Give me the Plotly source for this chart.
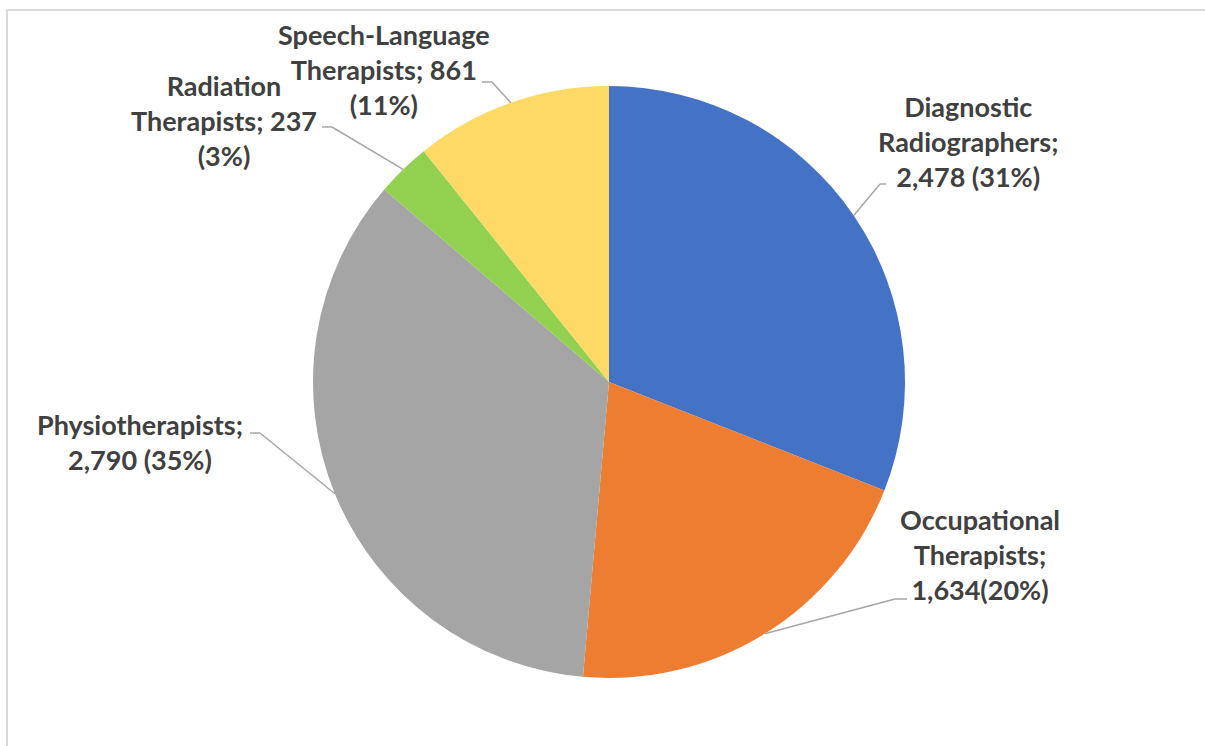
import math
import plotly.graph_objects as go

# ---- data ----
categories = ["Diagnostic Radiographers", "Occupational Therapists", "Physiotherapists",
              "Radiation Therapists", "Speech-Language Therapists"]
values = [2478, 1634, 2790, 237, 861]
label_texts = [
    "Diagnostic<br>Radiographers;<br>2,478 (31%)",
    "Occupational<br>Therapists;<br>1,634(20%)",
    "Physiotherapists;<br>2,790 (35%)",
    "Radiation<br>Therapists; 237<br>(3%)",
    "Speech-Language<br>Therapists; 861<br>(11%)",
]

# ---- style / layout ----
colors = ["#4472C4", "#ED7D31", "#A5A5A5", "#92D050", "#FFD966"]
W, H = 1205, 746
CX, CY, R = 609, 382, 296          # pie centre / radius in pixels
# label block centres (px) and leader elbow points (px): (elbow_x, elbow_y, end_x)
label_pos = [(968, 141), (980, 554), (140, 442), (224, 120), (384, 70)]
elbows = [(880, 184, 886), (895, 599, 907), (260, 433, 250), (332, 127, 322), (492, 82, 482)]
TEXT_COLOR = "#404040"
LINE_COLOR = "#A6A6A6"
FONT = "Lato"


def px(x):
    return x / W


def py(y):
    return 1 - y / H


fig = go.Figure(go.Pie(
    labels=categories, values=values, sort=False, direction="clockwise", rotation=0,
    marker=dict(colors=colors, line=dict(width=0)),
    textinfo="none", hoverinfo="label+value+percent",
    domain=dict(x=[px(CX - R), px(CX + R)], y=[py(CY + R), py(CY - R)]),
    showlegend=False,
))

shapes = []
annotations = []
total = sum(values)
cum = 0
for i, v in enumerate(values):
    mid = (cum + v / 2) / total * 2 * math.pi
    cum += v
    ax = CX + R * math.sin(mid)
    ay = CY - R * math.cos(mid)
    ex, ey, hx = elbows[i]
    shapes.append(dict(type="line", xref="paper", yref="paper",
                       x0=px(ax), y0=py(ay), x1=px(ex), y1=py(ey),
                       line=dict(color=LINE_COLOR, width=1.5)))
    shapes.append(dict(type="line", xref="paper", yref="paper",
                       x0=px(ex), y0=py(ey), x1=px(hx), y1=py(ey),
                       line=dict(color=LINE_COLOR, width=1.5)))
    lx, ly = label_pos[i]
    annotations.append(dict(x=px(lx), y=py(ly), xref="paper", yref="paper",
                            text="<b>" + label_texts[i] + "</b>", showarrow=False,
                            align="center", xanchor="center", yanchor="middle",
                            font=dict(family=FONT, size=27, color=TEXT_COLOR)))

# chart-area frame (top and left edges visible)
shapes.append(dict(type="line", xref="paper", yref="paper", x0=px(7), y0=py(10), x1=px(W), y1=py(10),
                   line=dict(color="#D9D9D9", width=2)))
shapes.append(dict(type="line", xref="paper", yref="paper", x0=px(7), y0=py(10), x1=px(7), y1=py(H),
                   line=dict(color="#D9D9D9", width=2)))

fig.update_layout(
    width=W, height=H, margin=dict(l=0, r=0, t=0, b=0),
    paper_bgcolor="white", plot_bgcolor="white",
    shapes=shapes, annotations=annotations,
)

fig.write_html("out.html")
